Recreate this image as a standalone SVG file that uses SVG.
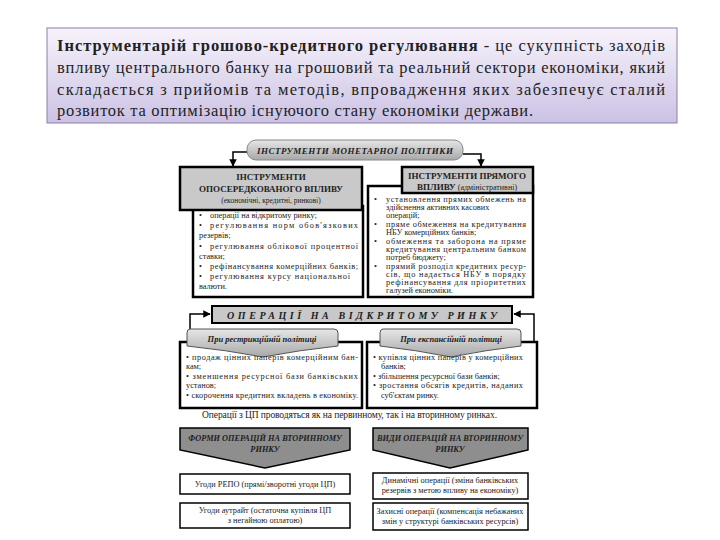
<svg xmlns="http://www.w3.org/2000/svg" width="720" height="540" viewBox="0 0 720 540">
<defs>
<linearGradient id="lav" x1="0" y1="0" x2="0" y2="1"><stop offset="0" stop-color="#f7f3fb"/><stop offset="1" stop-color="#cbc2e4"/></linearGradient>
<linearGradient id="gry" x1="0" y1="0" x2="0" y2="1"><stop offset="0" stop-color="#e6e6e6"/><stop offset="1" stop-color="#a8a8a8"/></linearGradient>
<marker id="ah" viewBox="0 0 10 10" refX="9" refY="5" markerWidth="5" markerHeight="5" orient="auto"><path d="M0,0 L10,5 L0,10 Z" fill="#000"/></marker>
<style>
.t{fill:#222;font-family:'Liberation Serif','Times New Roman',serif}
.intro{font-size:16.5px}
.b{font-weight:bold}
.hd{font-size:9px;font-weight:bold;text-anchor:middle}
.sm{font-size:8.3px}
.bi{font-style:italic;font-weight:bold}
.box{fill:#fff;stroke:#000;stroke-width:2.5}
.hbox{fill:#c9c9c9;stroke:#000;stroke-width:2.5}
.thin{fill:#fff;stroke:#000;stroke-width:1.5}
.con{fill:none;stroke:#000;stroke-width:1.5}
.mid{text-anchor:middle}
</style>
</defs>
<rect width="720" height="540" fill="#fff"/>
<g id="definition">
<rect x="47" y="28" width="630" height="95" fill="url(#lav)" stroke="#8a80a8" stroke-width="1"/>
<text class="t intro" x="57" y="51" textLength="608" lengthAdjust="spacing"><tspan class="b">Інструментарій грошово-кредитного регулювання</tspan> - це сукупність заходів</text>
<text class="t intro" x="57" y="73" textLength="608" lengthAdjust="spacing">впливу центрального банку на грошовий та реальний сектори економіки, який</text>
<text class="t intro" x="57" y="95" textLength="608" lengthAdjust="spacing">складається з прийомів та методів, впровадження яких забезпечує сталий</text>
<text class="t intro" x="57" y="116" textLength="476" lengthAdjust="spacing">розвиток та оптимізацію існуючого стану економіки держави.</text>
</g>
<g id="connectors">
<path class="con" d="M247,152 H233 V166" marker-end="url(#ah)"/>
<path class="con" d="M463,154 H481 V166" marker-end="url(#ah)"/>
<path class="con" d="M190,343 V314 H210" marker-end="url(#ah)"/>
<path class="con" d="M534,343 V314 H514" marker-end="url(#ah)"/>
</g>
<g id="monetary">
<rect x="247" y="140" width="216" height="20" rx="9" fill="url(#gry)" stroke="#888" stroke-width="1"/>
<text class="t bi mid" x="355" y="154" font-size="9" textLength="196" lengthAdjust="spacing">ІНСТРУМЕНТИ МОНЕТАРНОЇ ПОЛІТИКИ</text>
</g>
<g id="indirect">
<rect class="box" x="193" y="206" width="170" height="91"/>
<rect class="hbox" x="180" y="167" width="182" height="43"/>
<text class="t hd" x="271" y="180">ІНСТРУМЕНТИ</text>
<text class="t hd" x="271" y="192">ОПОСЕРЕДКОВАНОГО ВПЛИВУ</text>
<text class="t mid" x="271" y="203" font-size="7.5">(економічні, кредитні, ринкові)</text>
<text class="t sm" x="199" y="218">•</text><text class="t sm" x="210" y="218">операції на відкритому ринку;</text>
<text class="t sm" x="199" y="228">•</text><text class="t sm" x="210" y="228" textLength="148" lengthAdjust="spacing">регулювання норм обов'язкових</text>
<text class="t sm" x="199" y="238">резервів;</text>
<text class="t sm" x="199" y="249">•</text><text class="t sm" x="210" y="249" textLength="148" lengthAdjust="spacing">регулювання облікової процентної</text>
<text class="t sm" x="199" y="259">ставки;</text>
<text class="t sm" x="199" y="269">•</text><text class="t sm" x="210" y="269" textLength="148" lengthAdjust="spacing">рефінансування комерційних банків;</text>
<text class="t sm" x="199" y="279">•</text><text class="t sm" x="210" y="279" textLength="140" lengthAdjust="spacing">регулювання курсу національної</text>
<text class="t sm" x="199" y="289">валюти.</text>
</g>
<g id="direct">
<rect class="box" x="368" y="186" width="165" height="111"/>
<rect class="hbox" x="402" y="167" width="131" height="26"/>
<text class="t hd" x="467" y="179">ІНСТРУМЕНТИ ПРЯМОГО</text>
<text class="t mid" x="467" y="190" font-size="9"><tspan class="b">ВПЛИВУ</tspan> <tspan font-size="8">(адміністративні)</tspan></text>
<text class="t sm" x="374" y="202">•</text><text class="t sm" x="386" y="202" textLength="140" lengthAdjust="spacing">установлення прямих обмежень на</text>
<text class="t sm" x="386" y="210">здійснення активних касових</text>
<text class="t sm" x="386" y="218">операцій;</text>
<text class="t sm" x="374" y="227">•</text><text class="t sm" x="386" y="227" textLength="140" lengthAdjust="spacing">пряме обмеження на кредитування</text>
<text class="t sm" x="386" y="235">НБУ комерційних банків;</text>
<text class="t sm" x="374" y="244">•</text><text class="t sm" x="386" y="244" textLength="140" lengthAdjust="spacing">обмеження та заборона на пряме</text>
<text class="t sm" x="386" y="252" textLength="140" lengthAdjust="spacing">кредитування центральним банком</text>
<text class="t sm" x="386" y="260">потреб бюджету;</text>
<text class="t sm" x="374" y="269">•</text><text class="t sm" x="386" y="269" textLength="140" lengthAdjust="spacing">прямий розподіл кредитних ресур-</text>
<text class="t sm" x="386" y="277" textLength="140" lengthAdjust="spacing">сів, що надається НБУ в порядку</text>
<text class="t sm" x="386" y="285" textLength="140" lengthAdjust="spacing">рефінансування для пріоритетних</text>
<text class="t sm" x="386" y="293">галузей економіки.</text>
</g>
<g id="open-market">
<rect x="212" y="306" width="300" height="17" fill="#c8c8c8" stroke="#000" stroke-width="2"/>
<text class="t bi" x="227" y="318.5" font-size="10" textLength="270" lengthAdjust="spacing">ОПЕРАЦІЇ НА ВІДКРИТОМУ РИНКУ</text>
</g>
<g id="restrictive">
<rect class="box" x="180" y="342" width="182" height="66"/>
<path d="M190,329 H334 Q338,329 338,333 V346 Q300,350 263,357 Q226,350 187,346 V333 Q187,329 190,329 Z" fill="url(#gry)" stroke="#555" stroke-width="1"/>
<text class="t bi mid" x="262" y="342" font-size="8.5">При рестрикційній політиці</text>
<text class="t sm" x="186" y="360" textLength="172" lengthAdjust="spacing">• продаж цінних паперів комерційним бан-</text>
<text class="t sm" x="186" y="369">кам;</text>
<text class="t sm" x="186" y="379" textLength="172" lengthAdjust="spacing">• зменшення ресурсної бази банківських</text>
<text class="t sm" x="186" y="388">установ;</text>
<text class="t sm" x="186" y="398" textLength="172" lengthAdjust="spacing">• скорочення кредитних вкладень в економіку.</text>
</g>
<g id="expansive">
<rect class="box" x="367" y="342" width="170" height="66"/>
<path d="M383,329 H517 Q521,329 521,333 V346 Q486,350 451,357 Q416,350 380,346 V333 Q380,329 383,329 Z" fill="url(#gry)" stroke="#555" stroke-width="1"/>
<text class="t bi mid" x="451" y="342" font-size="8.5">При експансійній політиці</text>
<text class="t sm" x="373" y="360" textLength="150" lengthAdjust="spacing">• купівля цінних паперів у комерційних</text>
<text class="t sm" x="381" y="369">банків;</text>
<text class="t sm" x="373" y="379">• збільшення ресурсної бази банків;</text>
<text class="t sm" x="373" y="388" textLength="150" lengthAdjust="spacing">• зростання обсягів кредитів, наданих</text>
<text class="t sm" x="381" y="398">суб'єктам ринку.</text>
</g>
<g id="caption">
<text class="t" x="202" y="418" font-size="9.5" textLength="295" lengthAdjust="spacing">Операції з ЦП проводяться як на первинному, так і на вторинному ринках.</text>
</g>
<g id="forms">
<path d="M180,428 H350 V450 L265,468 L180,450 Z" fill="#8e8e8e" stroke="#000" stroke-width="1.5"/>
<text class="t bi mid" x="265" y="441" font-size="8.3">ФОРМИ ОПЕРАЦІЙ НА ВТОРИННОМУ</text>
<text class="t bi mid" x="265" y="452" font-size="8.3">РИНКУ</text>
</g>
<g id="kinds">
<path d="M373,428 H528 V450 L450,468 L373,450 Z" fill="#8e8e8e" stroke="#000" stroke-width="1.5"/>
<text class="t bi mid" x="450" y="441" font-size="8.3">ВИДИ ОПЕРАЦІЙ НА ВТОРИННОМУ</text>
<text class="t bi mid" x="450" y="452" font-size="8.3">РИНКУ</text>
</g>
<g id="repo">
<rect class="thin" x="180" y="474" width="170" height="20"/>
<text class="t sm mid" x="265" y="487">Угоди РЕПО (прямі/зворотні угоди ЦП)</text>
</g>
<g id="outright">
<rect class="thin" x="180" y="503" width="170" height="25"/>
<text class="t sm mid" x="265" y="513">Угоди аутрайт (остаточна купівля ЦП</text>
<text class="t sm mid" x="265" y="523">з негайною оплатою)</text>
</g>
<g id="dynamic">
<rect class="thin" x="373" y="473" width="155" height="26"/>
<text class="t sm mid" x="450" y="483">Динамічні операції (зміна банківських</text>
<text class="t sm mid" x="450" y="493">резервів з метою впливу на економіку)</text>
</g>
<g id="protective">
<rect class="thin" x="373" y="503" width="155" height="27"/>
<text class="t sm mid" x="450" y="514">Захисні операції (компенсація небажаних</text>
<text class="t sm mid" x="450" y="524">змін у структурі банківських ресурсів)</text>
</g>
</svg>
